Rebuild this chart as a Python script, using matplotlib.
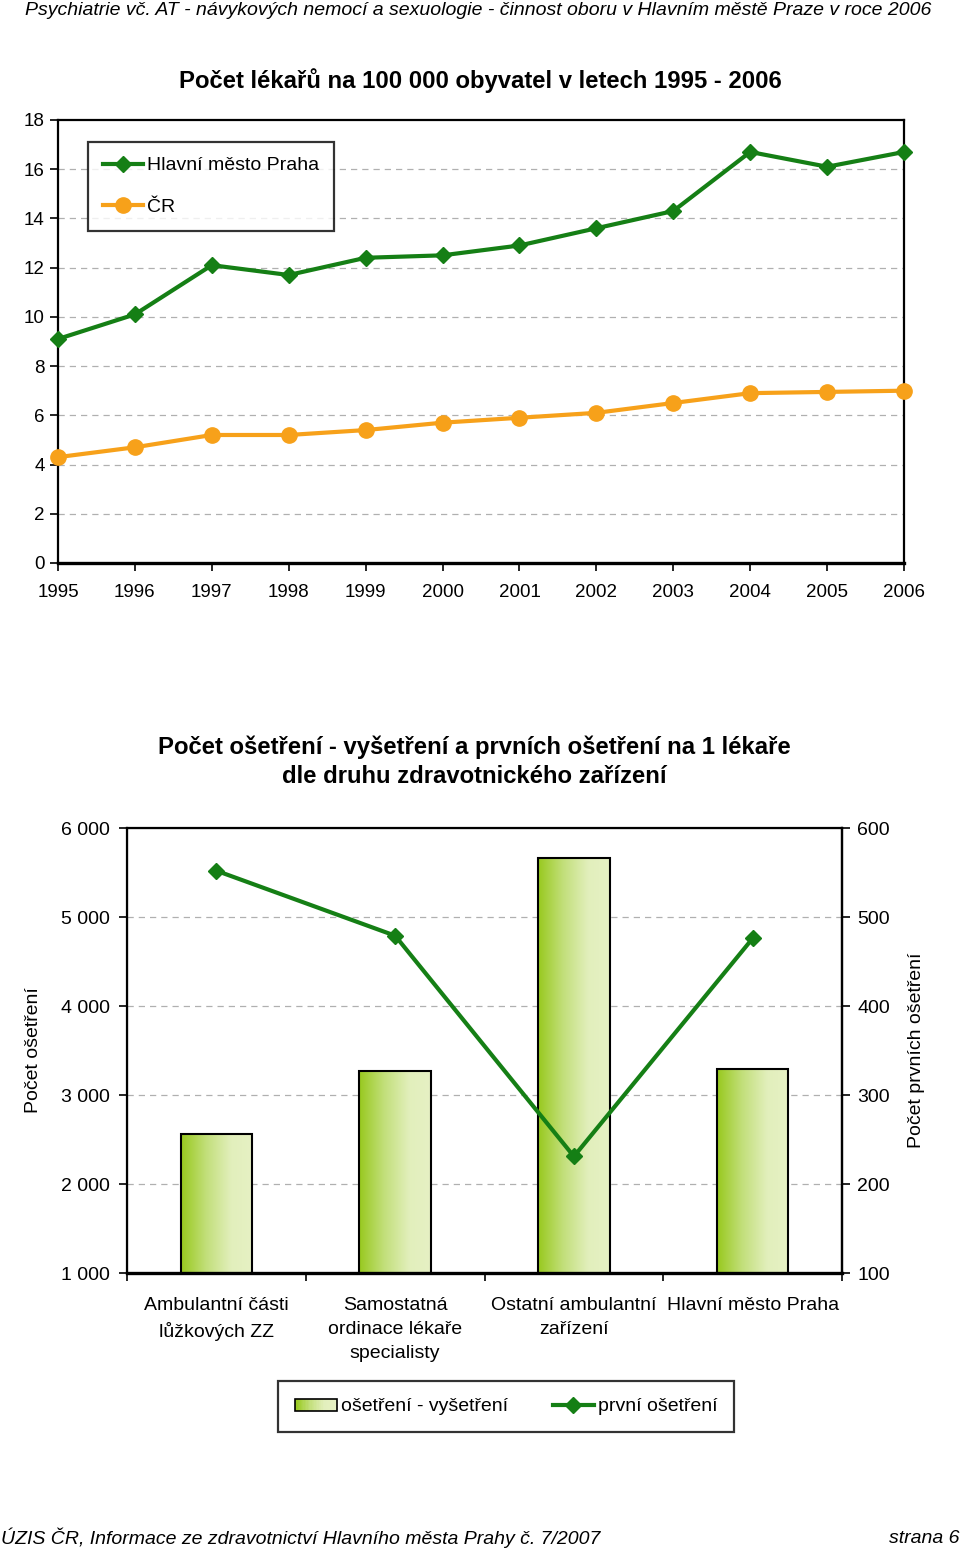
import numpy as np
import matplotlib.pyplot as plt
from matplotlib.colors import LinearSegmentedColormap
from matplotlib.patches import Rectangle
from matplotlib.legend_handler import HandlerPatch

plt.rcParams['font.family'] = ['Liberation Sans', 'DejaVu Sans']

# === Data: doctors per 100 000 inhabitants ===
years = [1995, 1996, 1997, 1998, 1999, 2000, 2001, 2002, 2003, 2004, 2005, 2006]
praha = [9.1, 10.1, 12.1, 11.7, 12.4, 12.5, 12.9, 13.6, 14.3, 16.7, 16.1, 16.7]
cr = [4.3, 4.7, 5.2, 5.2, 5.4, 5.7, 5.9, 6.1, 6.5, 6.9, 6.95, 7.0]

# === Data: treatments per doctor by facility type ===
facilities = ['Ambulantní části\nlůžkových ZZ', 'Samostatná\nordinace lékaře\nspecialisty',
              'Ostatní ambulantní\nzařízení', 'Hlavní město Praha']
treatments = [2560, 3270, 5660, 3290]
first_treatments = [552, 479, 231, 476]

GREEN = '#157F15'
ORANGE = '#F7A11A'
GRID = dict(color='#B0B0B0', linestyle=(0, (5, 4)), linewidth=0.9)
grad_cmap = LinearSegmentedColormap.from_list(
    'bar', [(0, '#98C91E'), (0.35, '#C2DF7A'), (0.7, '#E2EFBC'), (1, '#E6F1C4')])

fig = plt.figure(figsize=(9.6, 15.5), dpi=100)

# page header / footer
fig.text(0.498, 0.9935, 'Psychiatrie vč. AT - návykových nemocí a sexuologie - činnost oboru v Hlavním městě Praze v roce 2006',
         ha='center', va='center', fontsize=14, style='italic')
fig.text(0.001, 0.0077, 'ÚZIS ČR, Informace ze zdravotnictví Hlavního města Prahy č. 7/2007',
         ha='left', va='center', fontsize=14, style='italic')
fig.text(0.999, 0.0077, 'strana 6', ha='right', va='center', fontsize=14, style='italic')

# === Top chart ===
ax1 = fig.add_axes([0.0604, 0.6368, 0.8813, 0.2858])
ax1.plot(years, praha, color=GREEN, linewidth=3, marker='D', markersize=8, label='Hlavní město Praha', zorder=3, clip_on=False)
ax1.plot(years, cr, color=ORANGE, linewidth=3, marker='o', markersize=11, label='ČR', zorder=3, clip_on=False)
ax1.set_xlim(1995, 2006)
ax1.set_ylim(0, 18)
ax1.set_yticks(range(0, 19, 2))
ax1.set_xticks(years)
for v in range(2, 18, 2):
    ax1.axhline(v, zorder=0, **GRID)
ax1.tick_params(labelsize=13.5, length=6, width=1.2, direction='out')
ax1.tick_params(axis='x', pad=9)
for s in ax1.spines.values():
    s.set_linewidth(1.6)
ax1.spines['bottom'].set_linewidth(2.4)
fig.text(0.5, 0.948, 'Počet lékařů na 100 000 obyvatel v letech 1995 - 2006', ha='center', va='center',
         fontsize=17.2, fontweight='bold')
leg1 = ax1.legend(loc='upper left', bbox_to_anchor=(0.0355, 0.950), fontsize=14, frameon=True, fancybox=False,
                  edgecolor='black', handlelength=2.1, handletextpad=0.2, labelspacing=1.25, borderpad=0.75,
                  borderaxespad=0)
leg1.get_frame().set_linewidth(1.6)

# === Bottom chart ===
ax2 = fig.add_axes([0.1323, 0.1787, 0.7448, 0.2871])
x = np.arange(len(facilities))
bars = ax2.bar(x, treatments, width=0.4, bottom=0, facecolor='none', edgecolor='black', linewidth=1.5, zorder=3)
grad = np.linspace(0, 1, 256).reshape(1, -1)
for b in bars:
    ax2.imshow(grad, cmap=grad_cmap, aspect='auto', zorder=2,
               extent=[b.get_x(), b.get_x() + b.get_width(), 1000, b.get_height()])
ax2.set_xlim(-0.5, len(facilities) - 0.5)
ax2.set_ylim(1000, 6000)
for v in range(2000, 6000, 1000):
    ax2.axhline(v, zorder=0, **GRID)
ax2.set_yticks(range(1000, 6001, 1000))
ax2.set_yticklabels([f'{v // 1000} 000' for v in range(1000, 6001, 1000)])
ax2.set_xticks(np.arange(-0.5, len(facilities), 1))
ax2.set_xticklabels([])
ax2.set_xticks(x, minor=True)
ax2.set_xticklabels(facilities, minor=True, linespacing=1.55)
ax2.tick_params(axis='x', which='minor', length=0, labelsize=14, pad=17)
ax2.tick_params(axis='x', which='major', length=6, width=1.2)
ax2.tick_params(axis='y', labelsize=14, length=6, width=1.2, pad=6)
ax2.set_ylabel('Počet ošetření', fontsize=14, labelpad=14)
for s in ax2.spines.values():
    s.set_linewidth(1.6)
ax2.spines['bottom'].set_linewidth(2.4)

ax3 = ax2.twinx()
ax3.plot(x, first_treatments, color=GREEN, linewidth=3, marker='D', markersize=8, zorder=4)
ax3.set_ylim(100, 600)
ax3.set_yticks(range(100, 601, 100))
ax3.tick_params(axis='y', labelsize=14, length=6, width=1.2, pad=5)
ax3.set_ylabel('Počet prvních ošetření', fontsize=14, labelpad=13)
ax3.spines['right'].set_linewidth(1.6)
fig.text(0.494, 0.5085, 'Počet ošetření - vyšetření a prvních ošetření na 1 lékaře\ndle druhu zdravotnického zařízení',
         ha='center', va='center', fontsize=17.2, fontweight='bold', linespacing=1.3)


class GradientHandler(HandlerPatch):
    def create_artists(self, legend, orig_handle, xdescent, ydescent, width, height, fontsize, trans):
        y0 = -ydescent + height * 0.05
        h = height * 0.85
        n = 30
        arts = []
        for i in range(n):
            arts.append(Rectangle((-xdescent + width * i / n, y0), width / n + 0.3, h, transform=trans,
                                  facecolor=grad_cmap(i / (n - 1)), edgecolor='none'))
        arts.append(Rectangle((-xdescent, y0), width, h, transform=trans,
                              facecolor='none', edgecolor='black', linewidth=1.2))
        return arts


bar_handle = Rectangle((0, 0), 1, 1, facecolor='#C2DF7A', edgecolor='black')
line_handle, = ax3.plot([], [], color=GREEN, linewidth=3, marker='D', markersize=8)
leg2 = fig.legend([bar_handle, line_handle], ['ošetření - vyšetření', 'první ošetření'],
                  loc='center', bbox_to_anchor=(0.5275, 0.0925), ncol=2, fontsize=14, frameon=True,
                  fancybox=False, edgecolor='black', handlelength=2.15, handletextpad=0.2,
                  columnspacing=2.3, borderpad=0.85, handler_map={Rectangle: GradientHandler()})
leg2.get_frame().set_linewidth(1.6)

fig.savefig('out.png', dpi=100)
